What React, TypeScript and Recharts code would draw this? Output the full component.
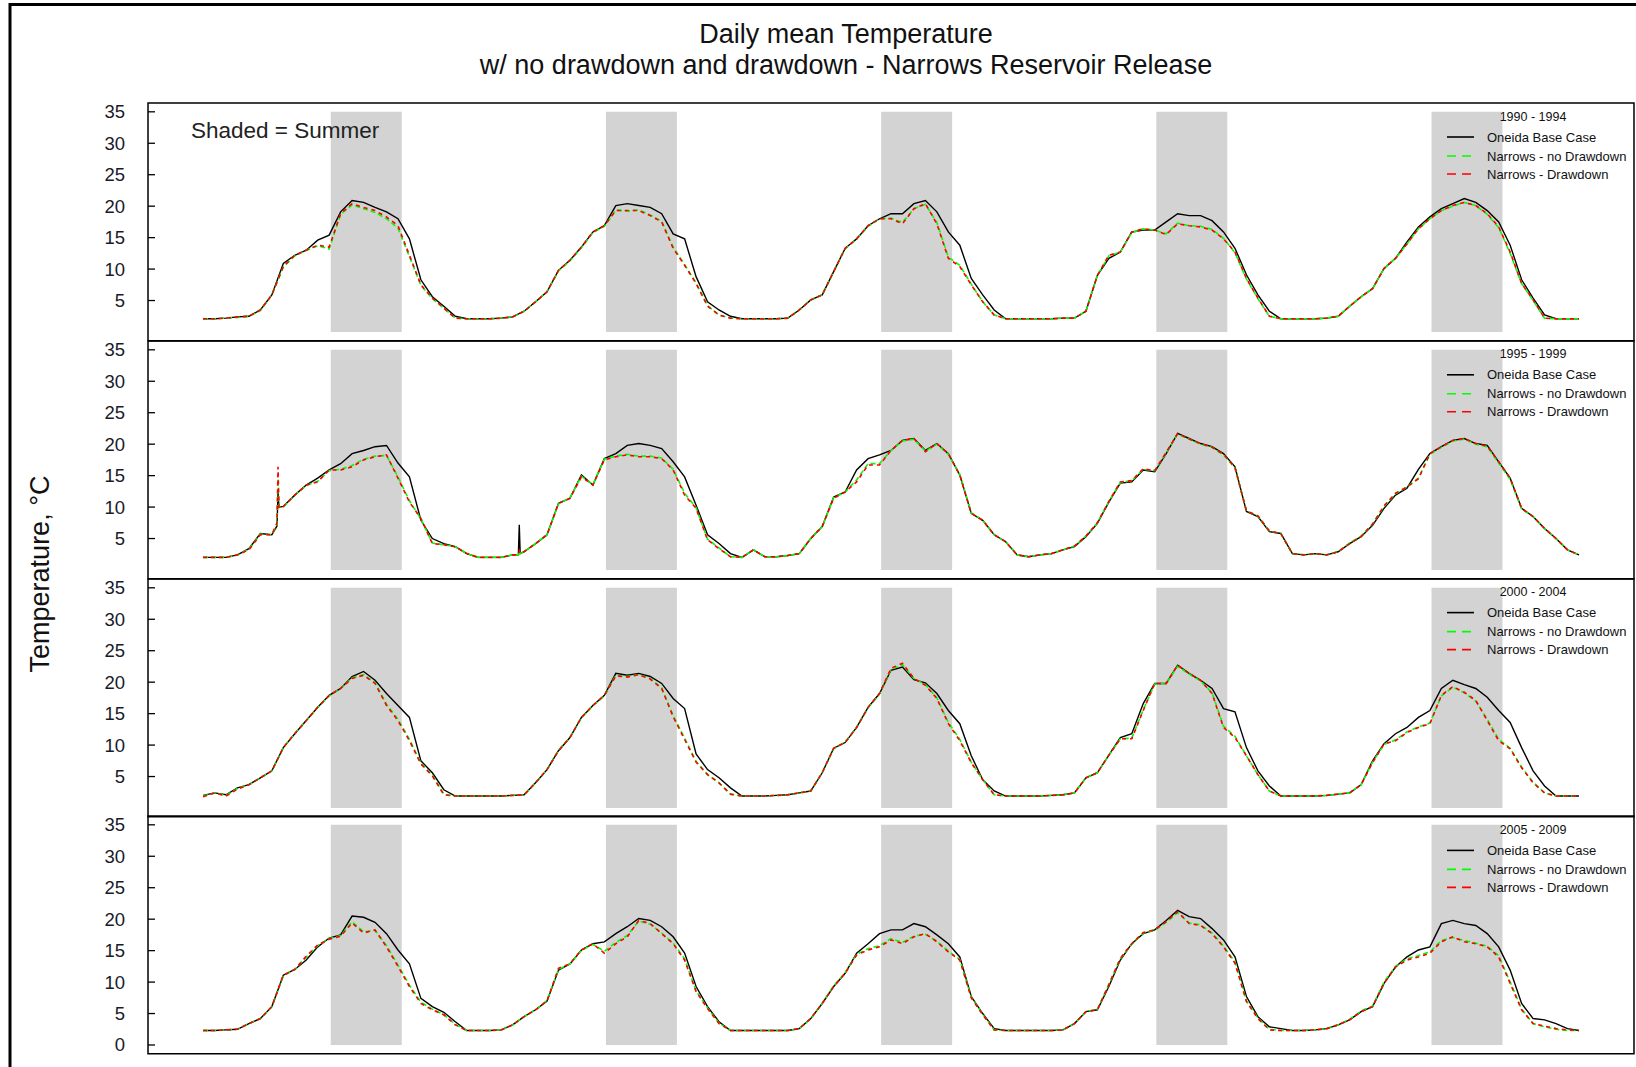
import React from 'react';
import { LineChart, Line, XAxis, YAxis, ReferenceArea } from 'recharts';

// x is measured in half-month steps: 24 steps per year, 5 years per panel
const yearTickSteps = [0, 24, 48, 72, 96, 120];
const yTicksUpper = [5, 10, 15, 20, 25, 30, 35];
const yTicksLowest = [0, 5, 10, 15, 20, 25, 30, 35];
const panelLabels = ['1990 - 1994', '1995 - 1999', '2000 - 2004', '2005 - 2009'];
const seriesNames = ['Oneida Base Case', 'Narrows - no Drawdown', 'Narrows - Drawdown'];
const summerStartStep = 11.14;
const summerEndStep = 17.33;

// ---------- 1990 - 1994 ----------
const p1Base = [
  2.1, 2.1, 2.2, 2.4, 2.5, 3.5, 5.9, 10.9, 12.2, 13.0, 14.6, 15.4, 19.1, 20.9, 20.6, 19.8, 19.1, 18.0, 14.8, 8.3, 5.6, 4.1, 2.5, 2.1,
  2.1, 2.1, 2.2, 2.4, 3.3, 4.8, 6.4, 9.8, 11.4, 13.5, 15.9, 16.9, 20.1, 20.4, 20.1, 19.8, 18.8, 15.6, 14.8, 8.8, 4.8, 3.5, 2.5, 2.1,
  2.1, 2.1, 2.1, 2.2, 3.5, 5.1, 5.9, 9.6, 13.3, 14.8, 16.9, 18.0, 18.8, 18.8, 20.4, 20.9, 19.1, 15.9, 13.8, 8.5, 5.9, 3.5, 2.1, 2.1,
  2.1, 2.1, 2.1, 2.2, 2.2, 3.3, 9.0, 11.7, 12.7, 15.9, 16.2, 16.2, 17.5, 18.8, 18.5, 18.5, 17.7, 15.9, 13.3, 9.1, 5.9, 3.3, 2.1, 2.1,
  2.1, 2.1, 2.2, 2.5, 4.1, 5.6, 6.9, 10.1, 11.7, 14.3, 16.7, 18.3, 19.6, 20.4, 21.2, 20.6, 19.3, 17.5, 13.8, 8.3, 5.4, 2.7, 2.1, 2.1,
  2.1,
];
const p1NoDd = [
  2.1, 2.1, 2.2, 2.3, 2.5, 3.4, 5.9, 10.3, 12.1, 13.0, 13.7, 13.2, 18.7, 20.2, 19.6, 19.0, 18.0, 16.5, 12.0, 7.4, 5.3, 3.8, 2.2, 2.1,
  2.1, 2.1, 2.2, 2.4, 3.3, 4.8, 6.4, 9.7, 11.3, 13.4, 15.8, 16.8, 19.4, 19.2, 19.4, 18.6, 17.6, 13.5, 10.7, 7.8, 4.2, 2.7, 2.2, 2.1,
  2.1, 2.1, 2.1, 2.2, 3.5, 5.1, 5.9, 9.6, 13.2, 14.8, 16.8, 18.0, 18.1, 17.4, 19.6, 20.3, 17.4, 11.9, 10.6, 7.6, 4.8, 2.7, 2.1, 2.1,
  2.1, 2.1, 2.1, 2.2, 2.2, 3.3, 9.0, 12.1, 12.7, 15.8, 16.4, 16.2, 15.6, 17.3, 16.9, 16.8, 16.3, 14.9, 12.6, 8.4, 5.3, 2.5, 2.1, 2.1,
  2.1, 2.1, 2.2, 2.5, 4.1, 5.6, 6.9, 10.1, 11.7, 14.0, 16.4, 18.0, 19.3, 20.0, 20.6, 20.1, 18.7, 16.6, 12.5, 7.7, 5.0, 2.2, 2.1, 2.1,
  2.1,
];
const p1Dd = [
  2.1, 2.1, 2.2, 2.4, 2.5, 3.5, 5.9, 10.4, 12.2, 13.0, 13.8, 13.5, 18.8, 20.4, 19.8, 19.3, 18.3, 16.9, 12.2, 7.5, 5.4, 3.8, 2.2, 2.1,
  2.1, 2.1, 2.2, 2.4, 3.3, 4.8, 6.4, 9.8, 11.4, 13.5, 15.9, 16.9, 19.3, 19.3, 19.3, 18.5, 17.5, 13.3, 10.6, 7.7, 4.1, 2.7, 2.2, 2.1,
  2.1, 2.1, 2.1, 2.2, 3.5, 5.1, 5.9, 9.6, 13.3, 14.8, 16.9, 18.0, 18.0, 17.2, 19.6, 20.4, 17.2, 11.7, 10.4, 7.5, 4.8, 2.7, 2.1, 2.1,
  2.1, 2.1, 2.1, 2.2, 2.2, 3.3, 9.0, 12.2, 12.7, 15.9, 16.4, 16.2, 15.5, 17.2, 16.9, 16.7, 16.2, 14.8, 12.7, 8.5, 5.4, 2.5, 2.1, 2.1,
  2.1, 2.1, 2.2, 2.5, 4.1, 5.6, 6.9, 10.1, 11.7, 14.0, 16.4, 18.0, 19.3, 20.1, 20.6, 20.1, 18.8, 16.7, 12.7, 7.7, 5.1, 2.2, 2.1, 2.1,
  2.1,
];

// ---------- 1995 - 1999 ----------
const p2Base = [
  2.0, 2.0, 2.0, 2.4, 3.4, 5.8, 5.6, 10.1, 11.9, 13.5, 14.6, 15.9, 16.9, 18.5, 19.0, 19.6, 19.8, 17.0, 14.8, 7.9, 5.0, 4.2, 3.7, 2.6,
  2.0, 2.0, 2.0, 2.4, 2.9, 4.2, 5.6, 10.6, 11.4, 15.1, 13.5, 17.7, 18.5, 19.8, 20.1, 19.8, 19.3, 17.2, 14.8, 10.3, 5.6, 4.2, 2.6, 2.0,
  3.2, 2.1, 2.1, 2.3, 2.6, 5.0, 6.9, 11.6, 12.4, 15.9, 17.7, 18.3, 19.0, 20.6, 20.9, 19.0, 20.1, 18.5, 15.1, 9.0, 7.9, 5.6, 4.5, 2.4,
  2.1, 2.4, 2.6, 3.2, 3.7, 5.3, 7.4, 10.8, 13.8, 14.0, 15.9, 15.6, 18.5, 21.7, 20.9, 20.1, 19.6, 18.5, 16.4, 9.3, 8.5, 6.1, 5.8, 2.6,
  2.4, 2.6, 2.4, 2.9, 4.2, 5.3, 7.1, 9.8, 11.9, 13.0, 16.0, 18.5, 19.6, 20.6, 20.9, 20.1, 19.8, 17.2, 14.6, 9.8, 8.5, 6.6, 5.0, 3.2,
  2.4,
];
const p2NoDd = [
  2.0, 2.0, 2.0, 2.4, 3.3, 5.7, 5.6, 10.0, 11.9, 13.4, 14.1, 15.8, 16.0, 16.6, 17.6, 18.1, 18.2, 14.8, 11.0, 8.1, 4.3, 4.0, 3.7, 2.6,
  2.0, 2.0, 2.0, 2.4, 2.9, 4.2, 5.6, 10.5, 11.5, 14.9, 13.6, 17.6, 18.1, 18.4, 18.1, 18.1, 17.8, 16.0, 12.2, 9.9, 4.9, 3.5, 2.1, 2.0,
  3.2, 2.1, 2.1, 2.3, 2.6, 5.0, 6.9, 11.5, 12.4, 14.3, 16.9, 16.9, 19.0, 20.5, 20.8, 18.9, 20.0, 18.4, 15.2, 9.1, 7.9, 5.6, 4.5, 2.4,
  2.1, 2.4, 2.6, 3.2, 3.8, 5.4, 7.5, 10.9, 13.9, 14.2, 16.0, 15.8, 18.6, 21.6, 20.8, 20.0, 19.5, 18.3, 16.2, 9.4, 8.6, 6.2, 5.8, 2.6,
  2.4, 2.6, 2.4, 2.9, 4.3, 5.4, 7.3, 10.1, 12.1, 13.2, 14.6, 18.4, 19.5, 20.5, 20.8, 20.0, 19.6, 17.0, 14.4, 9.7, 8.5, 6.6, 5.0, 3.2,
  2.4,
];
const p2Dd = [
  2.0, 2.0, 2.0, 2.4, 3.2, 5.6, 5.6, 10.1, 11.9, 13.5, 14.0, 15.9, 15.9, 16.4, 17.5, 18.0, 18.3, 14.6, 10.8, 8.2, 4.2, 4.0, 3.7, 2.6,
  2.0, 2.0, 2.0, 2.4, 2.9, 4.2, 5.6, 10.6, 11.4, 14.8, 13.5, 17.5, 18.0, 18.3, 18.0, 18.0, 17.7, 15.9, 11.9, 9.8, 4.8, 3.4, 2.1, 2.0,
  3.2, 2.1, 2.1, 2.3, 2.6, 5.0, 6.9, 11.4, 12.4, 14.0, 16.7, 16.7, 19.0, 20.6, 20.9, 18.8, 20.1, 18.5, 15.1, 9.0, 7.9, 5.6, 4.5, 2.4,
  2.1, 2.4, 2.6, 3.2, 3.8, 5.4, 7.5, 10.9, 14.0, 14.2, 16.1, 15.8, 18.7, 21.7, 20.8, 20.1, 19.5, 18.4, 16.3, 9.4, 8.6, 6.2, 5.8, 2.6,
  2.4, 2.6, 2.4, 2.9, 4.2, 5.3, 7.3, 10.2, 12.2, 13.2, 14.5, 18.5, 19.6, 20.6, 20.9, 20.1, 19.7, 17.2, 14.6, 9.8, 8.5, 6.6, 5.0, 3.2,
  2.4,
];
// short spikes in spring 1995 and winter 1996
const p2SpikeX = [6.45, 6.54, 6.62, 27.5, 27.58, 27.66];
const p2SpikeBase = [7.0, 12.4, 10.0, 2.4, 7.2, 2.6];
const p2SpikeNoDd = [7.2, 14.5, 10.0, 2.4, 3.0, 2.6];
const p2SpikeDd = [7.5, 16.4, 9.8, 2.4, 3.0, 2.6];

// ---------- 2000 - 2004 ----------
const p3Base = [
  2.0, 2.4, 2.1, 3.2, 3.7, 4.8, 5.9, 9.6, 11.8, 13.9, 16.0, 17.9, 19.0, 20.9, 21.7, 20.3, 18.2, 16.3, 14.4, 7.5, 5.6, 2.9, 1.9, 1.9,
  1.9, 1.9, 1.9, 2.0, 2.1, 4.0, 6.1, 9.1, 11.2, 14.4, 16.3, 17.9, 21.4, 21.1, 21.4, 20.9, 19.8, 17.4, 15.8, 8.6, 6.1, 4.8, 3.2, 1.9,
  1.9, 1.9, 2.0, 2.1, 2.4, 2.7, 5.6, 9.5, 10.4, 12.8, 16.0, 18.2, 21.9, 22.4, 20.4, 19.9, 18.2, 15.5, 13.4, 8.3, 4.5, 2.7, 1.9, 1.9,
  1.9, 1.9, 2.0, 2.1, 2.4, 4.8, 5.6, 8.4, 11.2, 11.8, 16.6, 19.8, 19.8, 22.7, 21.4, 20.3, 19.0, 15.8, 15.3, 9.6, 5.9, 3.5, 1.9, 1.9,
  1.9, 1.9, 2.0, 2.2, 2.4, 3.7, 7.5, 10.2, 11.8, 12.8, 14.4, 15.5, 19.0, 20.3, 19.6, 19.0, 17.6, 15.5, 13.6, 9.6, 5.9, 3.5, 1.9, 1.9,
  1.9,
];
const p3NoDd = [
  1.9, 2.4, 2.0, 3.1, 3.7, 4.8, 5.9, 9.6, 11.8, 13.9, 16.0, 17.8, 19.0, 20.7, 21.2, 19.9, 16.5, 14.1, 10.9, 7.1, 5.2, 2.2, 1.9, 1.9,
  1.9, 1.9, 1.9, 2.0, 2.1, 4.0, 6.1, 9.2, 11.2, 14.3, 16.3, 17.8, 21.1, 20.9, 21.2, 20.6, 19.1, 14.7, 11.1, 7.4, 5.3, 4.0, 2.2, 1.9,
  1.9, 1.9, 2.0, 2.1, 2.4, 2.7, 5.6, 9.4, 10.5, 12.8, 15.9, 18.1, 22.0, 22.8, 20.6, 19.6, 17.5, 13.6, 10.9, 7.3, 4.5, 2.1, 1.9, 1.9,
  1.9, 1.9, 2.0, 2.1, 2.4, 4.8, 5.6, 8.4, 11.0, 11.1, 15.6, 19.7, 19.8, 22.5, 21.3, 20.2, 18.3, 13.0, 11.4, 8.3, 5.3, 2.7, 1.9, 1.9,
  1.9, 1.9, 2.0, 2.2, 2.4, 3.7, 7.3, 10.1, 10.8, 12.1, 12.9, 13.5, 17.8, 19.2, 18.3, 17.0, 14.1, 10.9, 9.5, 6.5, 4.1, 2.4, 1.9, 1.9,
  1.9,
];
const p3Dd = [
  1.8, 2.4, 1.9, 3.0, 3.7, 4.8, 5.9, 9.6, 11.8, 13.9, 16.0, 17.9, 19.0, 20.6, 21.1, 19.8, 16.3, 13.9, 10.7, 7.0, 5.1, 2.1, 1.9, 1.9,
  1.9, 1.9, 1.9, 2.0, 2.1, 4.0, 6.1, 9.1, 11.2, 14.4, 16.3, 17.9, 21.0, 20.8, 21.2, 20.5, 19.0, 14.5, 10.9, 7.3, 5.3, 4.0, 2.2, 1.9,
  1.9, 1.9, 2.0, 2.1, 2.4, 2.7, 5.6, 9.5, 10.4, 12.8, 16.0, 18.2, 22.2, 23.0, 20.6, 19.5, 17.4, 13.4, 10.7, 7.2, 4.5, 2.1, 1.9, 1.9,
  1.9, 1.9, 2.0, 2.1, 2.4, 4.8, 5.6, 8.4, 11.0, 11.0, 15.5, 19.8, 19.8, 22.7, 21.4, 20.3, 18.2, 12.8, 11.2, 8.3, 5.3, 2.7, 1.9, 1.9,
  1.9, 1.9, 2.0, 2.2, 2.4, 3.7, 7.2, 10.2, 10.7, 12.0, 12.8, 13.4, 17.9, 19.3, 18.4, 17.1, 13.9, 10.7, 9.4, 6.4, 4.0, 2.4, 1.9, 1.9,
  1.9,
];

// ---------- 2005 - 2009 ----------
const p4Base = [
  2.3, 2.3, 2.4, 2.5, 3.4, 4.2, 6.1, 11.1, 12.0, 13.5, 15.6, 17.0, 17.5, 20.5, 20.3, 19.5, 17.7, 15.1, 12.9, 7.4, 6.1, 5.2, 3.7, 2.3,
  2.3, 2.3, 2.4, 3.2, 4.5, 5.6, 7.0, 11.9, 12.9, 15.1, 16.1, 16.4, 17.7, 18.8, 20.1, 19.8, 18.8, 17.2, 14.6, 9.3, 6.1, 3.7, 2.3, 2.3,
  2.3, 2.3, 2.3, 2.3, 2.6, 4.2, 6.6, 9.3, 11.4, 14.6, 16.1, 17.7, 18.3, 18.3, 19.3, 18.8, 17.5, 16.1, 14.0, 7.7, 5.0, 2.6, 2.3, 2.3,
  2.3, 2.3, 2.3, 2.4, 3.4, 5.3, 5.6, 9.3, 13.5, 16.1, 17.7, 18.3, 19.8, 21.4, 20.4, 20.1, 18.5, 16.7, 14.0, 7.7, 4.5, 2.9, 2.6, 2.3,
  2.3, 2.4, 2.6, 3.2, 4.0, 5.3, 6.1, 9.8, 12.4, 14.0, 15.1, 15.6, 19.3, 19.8, 19.3, 19.0, 17.7, 15.6, 11.9, 6.6, 4.2, 4.0, 3.4, 2.6,
  2.3,
];
const p4NoDd = [
  2.3, 2.3, 2.4, 2.5, 3.4, 4.2, 6.1, 11.0, 12.0, 14.0, 15.8, 16.9, 17.4, 19.6, 18.0, 18.2, 15.8, 12.7, 9.5, 6.8, 5.7, 4.8, 3.3, 2.3,
  2.3, 2.3, 2.4, 3.2, 4.5, 5.6, 7.1, 12.0, 12.9, 15.0, 16.0, 14.9, 16.3, 17.4, 19.7, 19.2, 17.8, 16.2, 13.7, 8.6, 5.9, 3.5, 2.3, 2.3,
  2.3, 2.3, 2.3, 2.3, 2.6, 4.2, 6.6, 9.4, 11.5, 14.4, 15.3, 15.8, 16.9, 16.3, 17.3, 17.6, 16.5, 14.9, 13.6, 7.6, 4.9, 2.4, 2.3, 2.3,
  2.3, 2.3, 2.3, 2.4, 3.4, 5.3, 5.7, 9.6, 13.7, 16.0, 17.8, 18.2, 19.5, 21.0, 19.4, 19.1, 17.8, 15.7, 13.2, 7.0, 4.3, 2.5, 2.3, 2.3,
  2.3, 2.4, 2.6, 3.2, 4.1, 5.4, 6.2, 10.0, 12.5, 13.7, 14.2, 14.8, 16.6, 17.1, 16.6, 16.2, 15.7, 14.2, 10.0, 5.7, 3.4, 2.9, 2.5, 2.3,
  2.3,
];
const p4Dd = [
  2.3, 2.3, 2.4, 2.5, 3.4, 4.2, 6.1, 11.1, 12.0, 14.1, 15.9, 16.8, 17.3, 19.4, 17.8, 18.3, 15.6, 12.5, 9.3, 6.6, 5.6, 4.8, 3.2, 2.3,
  2.3, 2.3, 2.4, 3.2, 4.5, 5.6, 7.0, 12.2, 12.9, 15.1, 16.1, 14.6, 16.1, 17.2, 19.8, 19.3, 17.7, 16.1, 13.5, 8.5, 5.8, 3.4, 2.3, 2.3,
  2.3, 2.3, 2.3, 2.3, 2.6, 4.2, 6.6, 9.3, 11.4, 14.3, 15.1, 15.6, 16.7, 16.1, 17.2, 17.7, 16.4, 14.8, 13.5, 7.5, 4.8, 2.4, 2.3, 2.3,
  2.3, 2.3, 2.3, 2.4, 3.4, 5.3, 5.6, 9.6, 13.8, 16.1, 17.9, 18.3, 19.6, 21.2, 19.3, 19.0, 17.7, 15.6, 13.0, 6.9, 4.2, 2.4, 2.3, 2.3,
  2.3, 2.4, 2.6, 3.2, 4.0, 5.3, 6.1, 9.8, 12.4, 13.5, 14.0, 14.6, 16.4, 17.2, 16.4, 16.1, 15.6, 14.0, 9.8, 5.6, 3.4, 3.0, 2.6, 2.4,
  2.3,
];

type Row = { x: number; base: number; nod: number; dd: number };

function buildRows(
  base: number[],
  nod: number[],
  dd: number[],
  extraX: number[] = [],
  extraBase: number[] = [],
  extraNod: number[] = [],
  extraDd: number[] = []
): Row[] {
  const rows: Row[] = base.map((v, i) => ({ x: i, base: v, nod: nod[i], dd: dd[i] }));
  extraX.forEach((x, k) => rows.push({ x, base: extraBase[k], nod: extraNod[k], dd: extraDd[k] }));
  rows.sort((a, b) => a.x - b.x);
  return rows;
}

const panelRows: Row[][] = [
  buildRows(p1Base, p1NoDd, p1Dd),
  buildRows(p2Base, p2NoDd, p2Dd, p2SpikeX, p2SpikeBase, p2SpikeNoDd, p2SpikeDd),
  buildRows(p3Base, p3NoDd, p3Dd),
  buildRows(p4Base, p4NoDd, p4Dd),
];

const FONT = '"Liberation Sans", Arial, Helvetica, sans-serif';
const PAGE_W = 1636;
const PAGE_H = 1067;
const PLOT_LEFT = 148;
const PLOT_RIGHT = 1634;
const PANEL_TOP0 = 103;
const PANEL_H = 237.8;
const PAD = 2;
const X_DOMAIN: [number, number] = [-4.8, 124.8];
const Y_DOMAIN: [number, number] = [-1.4, 36.4];

const XTick = (props: any) => {
  const { x, y } = props;
  return <line x1={x} x2={x} y1={y} y2={y - 7} stroke="#000" strokeWidth={1.3} />;
};

const YTick = (props: any) => {
  const { x, y, payload } = props;
  return (
    <g>
      <line x1={x} x2={x + 7} y1={y} y2={y} stroke="#000" strokeWidth={1.3} />
      <text
        x={x - 23}
        y={y}
        textAnchor="end"
        dominantBaseline="central"
        fontFamily={FONT}
        fontSize={18.5}
        fill="#1a1a2a"
      >
        {payload.value}
      </text>
    </g>
  );
};

function Panel({ index }: { index: number }) {
  const top = PANEL_TOP0 + index * PANEL_H - PAD;
  const rows = panelRows[index];
  const summers = [0, 1, 2, 3, 4];
  return (
    <div style={{ position: 'absolute', left: 0, top, width: PAGE_W, height: PANEL_H + 2 * PAD }}>
      <LineChart
        width={PAGE_W}
        height={PANEL_H + 2 * PAD}
        data={rows}
        margin={{ top: PAD, right: PAGE_W - PLOT_RIGHT, bottom: PAD, left: 0 }}
      >
        <XAxis
          dataKey="x"
          type="number"
          domain={X_DOMAIN}
          allowDataOverflow
          ticks={yearTickSteps}
          interval={0}
          axisLine={false}
          tickLine={false}
          tickSize={0}
          tickMargin={0}
          height={0}
          tick={<XTick />}
        />
        <YAxis
          type="number"
          domain={Y_DOMAIN}
          allowDataOverflow
          ticks={index === 3 ? yTicksLowest : yTicksUpper}
          interval={0}
          axisLine={false}
          tickLine={false}
          tickSize={0}
          tickMargin={0}
          width={PLOT_LEFT}
          tick={<YTick />}
        />
        {summers.map((yr) => (
          <ReferenceArea
            key={yr}
            x1={yr * 24 + summerStartStep}
            x2={yr * 24 + summerEndStep}
            y1={0}
            y2={35}
            fill="#d3d3d3"
            fillOpacity={1}
            stroke="none"
            ifOverflow="visible"
          />
        ))}
        <Line
          dataKey="base"
          type="linear"
          stroke="#000000"
          strokeWidth={1.4}
          dot={false}
          activeDot={false}
          isAnimationActive={false}
        />
        <Line
          dataKey="nod"
          type="linear"
          stroke="#00ff00"
          strokeWidth={1.6}
          strokeDasharray="5 3"
          dot={false}
          activeDot={false}
          isAnimationActive={false}
        />
        <Line
          dataKey="dd"
          type="linear"
          stroke="#ff0000"
          strokeWidth={1.6}
          strokeDasharray="4 4"
          dot={false}
          activeDot={false}
          isAnimationActive={false}
        />
        <ReferenceArea
          x1={X_DOMAIN[0]}
          x2={X_DOMAIN[1]}
          y1={Y_DOMAIN[0]}
          y2={Y_DOMAIN[1]}
          fill="none"
          fillOpacity={0}
          stroke="#000"
          strokeWidth={1.5}
          ifOverflow="visible"
        />
      </LineChart>
    </div>
  );
}

function LegendBlock({ index }: { index: number }) {
  const top = PANEL_TOP0 + index * PANEL_H;
  const rowsY = [top + 34, top + 53, top + 71];
  const colors = ['#000000', '#00ff00', '#ff0000'];
  const dashes = [undefined, '9 6', '9 6'];
  return (
    <g>
      <text
        x={1533}
        y={top + 13.5}
        textAnchor="middle"
        dominantBaseline="central"
        fontFamily={FONT}
        fontSize={12.5}
        fill="#111"
      >
        {panelLabels[index]}
      </text>
      {seriesNames.map((name, k) => (
        <g key={name}>
          <line
            x1={1447}
            x2={1474}
            y1={rowsY[k]}
            y2={rowsY[k]}
            stroke={colors[k]}
            strokeWidth={1.6}
            strokeDasharray={dashes[k]}
          />
          <text
            x={1487}
            y={rowsY[k]}
            dominantBaseline="central"
            fontFamily={FONT}
            fontSize={13}
            fill="#111"
          >
            {name}
          </text>
        </g>
      ))}
    </g>
  );
}

export default function App() {
  return (
    <div
      style={{
        position: 'absolute',
        left: 0,
        top: 0,
        width: PAGE_W,
        height: PAGE_H,
        overflow: 'hidden',
        background: '#fff',
        fontFamily: FONT,
      }}
    >
      {[0, 1, 2, 3].map((i) => (
        <Panel key={i} index={i} />
      ))}
      <svg
        width={PAGE_W}
        height={PAGE_H}
        style={{ position: 'absolute', left: 0, top: 0, pointerEvents: 'none' }}
      >
        <path d={`M10,${PAGE_H} L10,4.5 L${PAGE_W},4.5`} fill="none" stroke="#000" strokeWidth={3} />
        <text x={846} y={33.5} textAnchor="middle" dominantBaseline="central" fontFamily={FONT} fontSize={27} fill="#111">
          Daily mean Temperature
        </text>
        <text x={846} y={65} textAnchor="middle" dominantBaseline="central" fontFamily={FONT} fontSize={27} fill="#111">
          w/ no drawdown and drawdown - Narrows Reservoir Release
        </text>
        <text
          x={40}
          y={574}
          transform="rotate(-90, 40, 574)"
          textAnchor="middle"
          dominantBaseline="central"
          fontFamily={FONT}
          fontSize={27}
          fill="#111"
        >
          Temperature, °C
        </text>
        <text x={191} y={130} dominantBaseline="central" fontFamily={FONT} fontSize={22.5} fill="#222">
          Shaded = Summer
        </text>
        {[0, 1, 2, 3].map((i) => (
          <LegendBlock key={i} index={i} />
        ))}
      </svg>
    </div>
  );
}
